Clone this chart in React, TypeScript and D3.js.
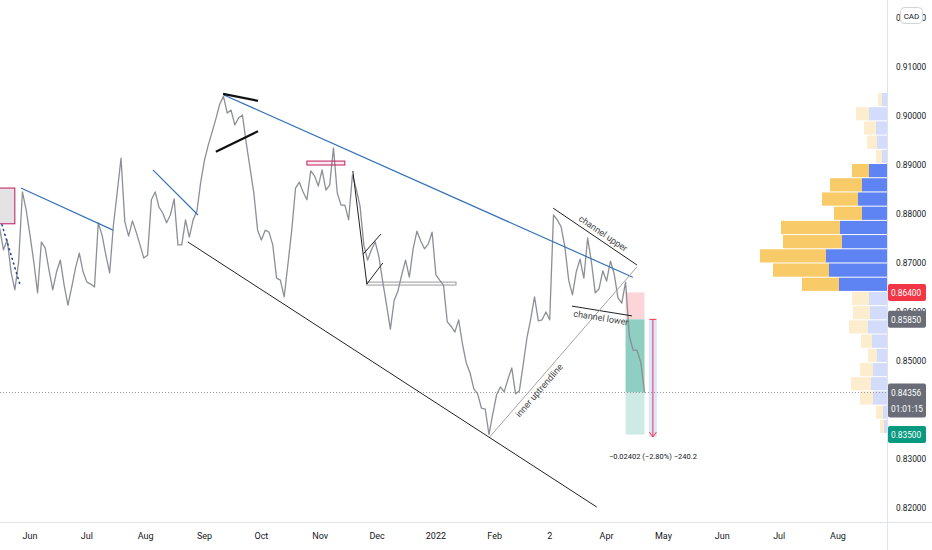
import * as d3 from 'd3';

// closes every 2 days, starting 2021-05-16
const startDate = new Date(2021, 4, 16);
const stepDays = 2;
const closes = [
  0.8771, 0.8727, 0.8747, 0.8682, 0.8645, 0.8702, 0.8845, 0.8808, 0.8757, 0.8702,
  0.8639, 0.8743, 0.8731, 0.8686, 0.8645, 0.8682, 0.8706, 0.8655, 0.8614, 0.8651,
  0.8690, 0.8720, 0.8682, 0.8661, 0.8657, 0.8651, 0.8782, 0.8757, 0.8716, 0.8680,
  0.8778, 0.8845, 0.8914, 0.8784, 0.8755, 0.8786, 0.8763, 0.8737, 0.8710, 0.8716,
  0.8829, 0.8845, 0.8814, 0.8802, 0.8782, 0.8798, 0.8831, 0.8737, 0.8737, 0.8788,
  0.8753, 0.8788, 0.8806, 0.8865, 0.8910, 0.8941, 0.8967, 0.8994, 0.9024, 0.9040,
  0.9006, 0.9012, 0.8982, 0.8996, 0.9002, 0.8945, 0.8894, 0.8843, 0.8767, 0.8747,
  0.8767, 0.8763, 0.8737, 0.8669, 0.8665, 0.8631, 0.8698, 0.8767, 0.8853, 0.8865,
  0.8845, 0.8829, 0.8888, 0.8878, 0.8857, 0.8890, 0.8849, 0.8859, 0.8935, 0.8843,
  0.8818, 0.8818, 0.8788, 0.8880, 0.8851, 0.8816, 0.8737, 0.8706, 0.8727, 0.8743,
  0.8712, 0.8661, 0.8614, 0.8565, 0.8624, 0.8643, 0.8676, 0.8706, 0.8671, 0.8729,
  0.8765, 0.8745, 0.8729, 0.8739, 0.8763, 0.8676, 0.8665, 0.8655, 0.8580, 0.8571,
  0.8559, 0.8584, 0.8535, 0.8496, 0.8476, 0.8443, 0.8433, 0.8404, 0.8402, 0.8350,
  0.8392, 0.8431, 0.8447, 0.8437, 0.8463, 0.8486, 0.8433, 0.8439, 0.8492, 0.8547,
  0.8586, 0.8631, 0.8582, 0.8584, 0.8600, 0.8584, 0.8798, 0.8788, 0.8774, 0.8733,
  0.8665, 0.8635, 0.8682, 0.8708, 0.8669, 0.8751, 0.8702, 0.8639, 0.8647, 0.8684,
  0.8663, 0.8704, 0.8678, 0.8629, 0.8618, 0.8661, 0.8551, 0.8522, 0.8522, 0.8498,
  0.84356,
];

// 0.84000 sits under the last-price label, so it is not listed
const priceTicks = [0.92, 0.91, 0.9, 0.89, 0.88, 0.87, 0.86, 0.85, 0.83, 0.82];
const timeTickDates = [
  '2021-06-01', '2021-07-01', '2021-08-01', '2021-09-01', '2021-10-01', '2021-11-01', '2021-12-01',
  '2022-01-01', '2022-02-01', '2022-03-02', '2022-04-01', '2022-05-01', '2022-06-01', '2022-07-01', '2022-08-01',
];
const timeTickLabels = ['Jun', 'Jul', 'Aug', 'Sep', 'Oct', 'Nov', 'Dec', '2022', 'Feb', '2', 'Apr', 'May', 'Jun', 'Jul', 'Aug'];

// volume profile rows, top to bottom
const vpTop = 0.9047;
const vpStep = 0.0029;
const vpUp = [5, 18, 11, 10, 5, 18, 25, 29, 25, 47, 45, 61, 58, 48, 18, 17, 19, 15, 10, 14, 16, 14, 4, 3];
const vpDown = [4, 13, 12, 10, 6, 17, 32, 36, 28, 59, 59, 66, 56, 37, 17, 17, 19, 11, 9, 13, 20, 13, 7, 4];
const valueArea = [5, 13];

// drawings, anchored at [bar index, price]
type P = [number, number];
const blueLines: [P, P][] = [
  [[5.6, 0.8853], [29.9, 0.8767]],
  [[40.4, 0.889], [52.3, 0.8798]],
  [[59.1, 0.9043], [166.9, 0.8671]],
];
const thickLines: [P, P][] = [
  [[58.9, 0.9045], [68.1, 0.9031]],
  [[57.0, 0.8927], [68.1, 0.8969]],
];
const blackLines: [P, P][] = [
  [[49.6, 0.8743], [157.4, 0.8202]],
  [[93.1, 0.8888], [96.8, 0.8657]],
  [[95.8, 0.8718], [100.5, 0.8759]],
  [[96.8, 0.8657], [101.0, 0.87]],
  [[145.9, 0.8812], [168.0, 0.8696]],
  [[150.9, 0.8612], [166.7, 0.8592]],
];
const upTrend: [P, P] = [[129.2, 0.8345], [168.0, 0.8692]];
const leftDots: [P, P] = [[0.6, 0.8778], [5.4, 0.8655]];
const leftBox: [P, P] = [[-4, 0.8853], [4.0, 0.878]];
const pinkBox: [P, P] = [[81.0, 0.8908], [91.0, 0.89]];
const grayBox: [P, P] = [[96.8, 0.8661], [120.3, 0.8655]];
const position = { left: 165, right: 170, entry: 0.8585, stop: 0.864, target: 0.835 };
const measure = { bar: 172.2, from: 0.8585, to: 0.83448 };
const lastPrice = 0.84356;

const W = 932;
const H = 550;
const plotRight = 887;
const plotBottom = 522;
const font = 'Roboto, "Liberation Sans", sans-serif';

export default function App() {
  const x = d3.scaleTime()
    .domain([new Date(2021, 5, 1), new Date(2022, 7, 1)])
    .range([30, 838]);
  const y = d3.scaleLinear().domain([0.82, 0.91]).range([508, 67]);
  const barDate = (i: number) => new Date(startDate.getTime() + i * stepDays * 86400000);
  const bx = (i: number) => x(barDate(i));
  const parse = d3.timeParse('%Y-%m-%d');

  const line = d3.line<number>()
    .x((_, i) => bx(i))
    .y(d => y(d));

  const maxVol = d3.max(vpUp.map((v, i) => v + vpDown[i]))!;
  const vol = d3.scaleLinear().domain([0, maxVol]).range([0, 127]);

  const seg = (s: [P, P], key: string, stroke: string, sw: number, extra: any = {}) => (
    <line key={key} x1={bx(s[0][0])} y1={y(s[0][1])} x2={bx(s[1][0])} y2={y(s[1][1])}
      stroke={stroke} strokeWidth={sw} {...extra} />
  );
  const rect = (b: [P, P]) => ({
    x: bx(b[0][0]), y: y(b[0][1]),
    width: bx(b[1][0]) - bx(b[0][0]), height: y(b[1][1]) - y(b[0][1]),
  });

  // rotated label along a segment
  const label = (s: [P, P], t: number, text: string, dy: number, key: string) => {
    const x1 = bx(s[0][0]), y1 = y(s[0][1]), x2 = bx(s[1][0]), y2 = y(s[1][1]);
    const cx = x1 + (x2 - x1) * t, cy = y1 + (y2 - y1) * t;
    const ang = Math.atan2(y2 - y1, x2 - x1) * 180 / Math.PI;
    return (
      <text key={key} transform={`translate(${cx},${cy}) rotate(${ang})`} dy={dy}
        textAnchor="middle" fontSize={9} fill="#444" fontFamily={font}>{text}</text>
    );
  };

  const mx = bx(measure.bar);
  const posL = bx(position.left), posR = bx(position.right);

  const axisBox = (price: number, fill: string, key: string, text2?: string) => {
    const cy = y(price);
    const h = text2 ? 34 : 17;
    const top = text2 ? cy - 9 : cy - 8.5;
    return (
      <g key={key}>
        <rect x={888} y={top} width={38} height={h} rx={2} fill={fill} />
        <text x={891} y={top + 12} fontSize={8.3} fill="#fff" fontFamily={font}>{price.toFixed(5)}</text>
        {text2 && <text x={891} y={top + 28} fontSize={8.3} fill="#fff" fontFamily={font}>{text2}</text>}
      </g>
    );
  };

  return (
    <svg width={W} height={H} style={{ position: 'absolute', left: 0, top: 0, background: '#fff' }}>
      <defs>
        <clipPath id="plot"><rect x={0} y={0} width={plotRight} height={plotBottom} /></clipPath>
      </defs>

      <g clipPath="url(#plot)">
        {/* volume profile */}
        {vpUp.map((u, i) => {
          const inVA = i >= valueArea[0] && i <= valueArea[1];
          const top = y(vpTop - i * vpStep);
          const h = y(vpTop - (i + 1) * vpStep) - top - 1;
          const wu = vol(u), wd = vol(vpDown[i]);
          return (
            <g key={'vp' + i}>
              <rect x={plotRight - wu} y={top} width={wu} height={h} fill={inVA ? '#5d84f2' : '#d3dcfb'} />
              <rect x={plotRight - wu - wd} y={top} width={wd} height={h} fill={inVA ? '#f8cb68' : '#fdedcf'} />
            </g>
          );
        })}

        {/* drawings under price */}
        <rect {...rect(leftBox)} fill="#e3e3e5" stroke="#c2185b" strokeWidth={1} />
        <rect {...rect(grayBox)} fill="none" stroke="#9a9a9a" strokeWidth={1} />

        {/* position tool */}
        <rect x={posL} y={y(position.stop)} width={posR - posL} height={y(position.entry) - y(position.stop)} fill="#fbd5d8" />
        <rect x={posL} y={y(position.entry)} width={posR - posL} height={y(lastPrice) - y(position.entry)} fill="#8fcfc1" />
        <rect x={posL} y={y(lastPrice)} width={posR - posL} height={y(position.target) - y(lastPrice)} fill="#cdeae4" />

        {/* measure */}
        <rect x={mx - 4} y={y(measure.from)} width={8} height={y(measure.to) - y(measure.from)} fill="#dbe6fd" />
        <line x1={mx} x2={mx} y1={y(measure.from)} y2={y(measure.to)} stroke="#f23645" strokeWidth={1} />
        <line x1={mx - 3.5} x2={mx + 3.5} y1={y(measure.from)} y2={y(measure.from)} stroke="#f23645" strokeWidth={1} />
        <path d={`M${mx - 3.5},${y(measure.to) - 5}L${mx},${y(measure.to)}L${mx + 3.5},${y(measure.to) - 5}`} fill="none" stroke="#f23645" strokeWidth={1} />
        <text x={mx} y={y(measure.to) + 22} textAnchor="middle" fontSize={7.5} fill="#131722" fontFamily={font}>
          −0.02402 (−2.80%) −240.2
        </text>

        {/* last price dotted */}
        <line x1={0} x2={plotRight} y1={y(lastPrice)} y2={y(lastPrice)} stroke="#9598a1" strokeWidth={1} strokeDasharray="1 2" />

        {/* price */}
        <path d={line(closes)!} fill="none" stroke="#8c8f96" strokeWidth={1.3} strokeLinejoin="round" />

        {/* drawings */}
        {seg(leftDots, 'dots', '#27489a', 1.6, { strokeDasharray: '1 4', strokeLinecap: 'round' })}
        <rect {...rect(pinkBox)} fill="rgba(233,30,99,0.08)" stroke="#c2185b" strokeWidth={1} />
        {blueLines.map((s, i) => seg(s, 'b' + i, '#3572b8', 1.2))}
        {thickLines.map((s, i) => seg(s, 't' + i, '#111', 2.2))}
        {blackLines.map((s, i) => seg(s, 'k' + i, '#222', 1))}
        {seg(upTrend, 'up', '#a3a3a3', 1)}
        {label(blackLines[4], 0.55, 'channel upper', -4, 'lu')}
        {label(blackLines[5], 0.5, 'channel lower', 10, 'll')}
        {label(upTrend, 0.3, 'inner uptrendline', 10, 'lt')}
      </g>

      {/* frame lines */}
      <line x1={plotRight + 0.5} x2={plotRight + 0.5} y1={0} y2={H} stroke="#e0e3eb" />
      <line x1={0} x2={W} y1={plotBottom + 0.5} y2={plotBottom + 0.5} stroke="#e0e3eb" />

      {/* price axis */}
      {priceTicks.map(p => (
        <text key={'p' + p} x={896} y={y(p) + 3} fontSize={8.3} fill="#131722" fontFamily={font}>{p.toFixed(5)}</text>
      ))}
      {axisBox(position.stop, '#f23645', 'ab1')}
      {axisBox(position.entry, '#6a6d78', 'ab2')}
      {axisBox(lastPrice, '#6a6d78', 'ab3', '01:01:15')}
      {axisBox(position.target, '#089981', 'ab4')}
      <rect x={900.5} y={7.5} width={22} height={16} rx={4} fill="#fff" stroke="#d1d4dc" />
      <text x={911.5} y={18.5} textAnchor="middle" fontSize={8} fill="#131722" fontFamily={font}>CAD</text>

      {/* time axis */}
      {timeTickDates.map((d, i) => (
        <text key={'t' + i} x={x(parse(d)!)} y={539} textAnchor="middle" fontSize={9} fill="#131722" fontFamily={font}>
          {timeTickLabels[i]}
        </text>
      ))}
    </svg>
  );
}
